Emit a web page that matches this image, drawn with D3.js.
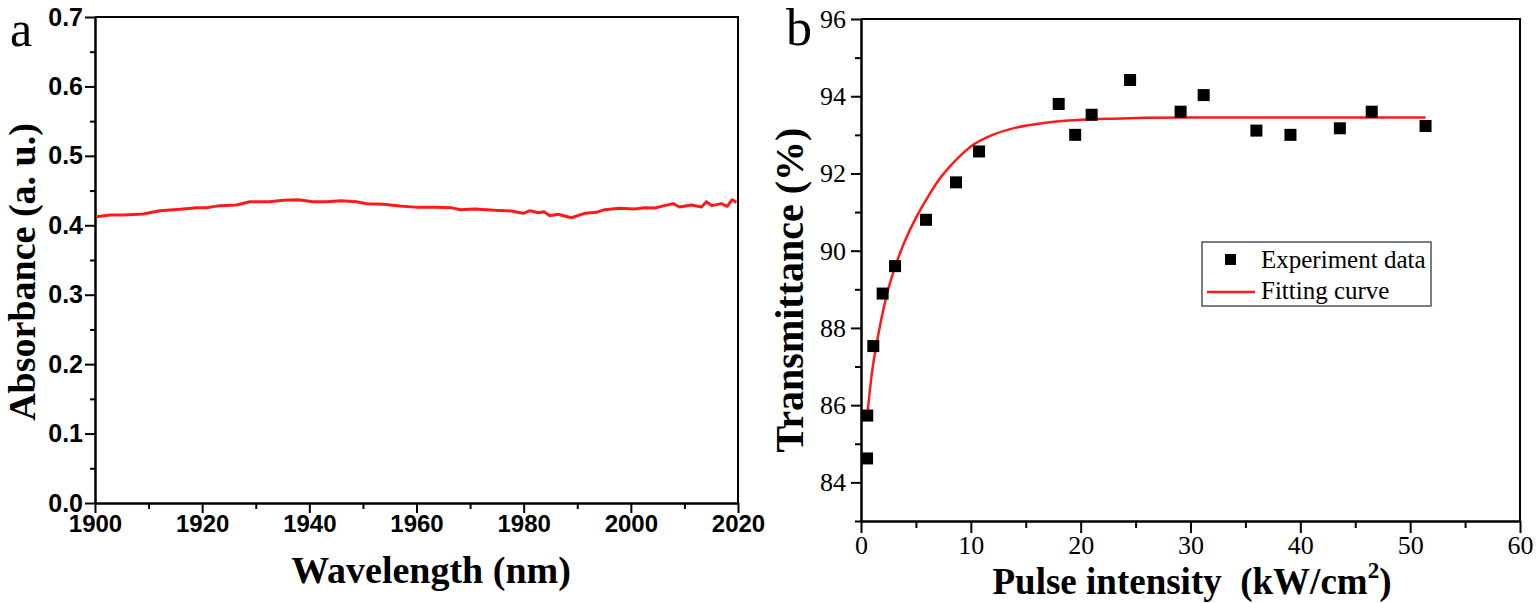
<!DOCTYPE html>
<html>
<head>
<meta charset="utf-8">
<script src="https://cdn.jsdelivr.net/npm/d3@7"></script>
<style>
  body { margin: 0; background: #fff; }
  svg { display: block; }
</style>
</head>
<body>
<script>
// panel a: absorbance spectrum
var wavelength = [1900.2, 1902.8, 1905.3, 1909, 1912.1, 1915.9, 1919, 1920.8, 1923.3, 1926.4, 1928.9, 1932.6,
    1935.1, 1937.9, 1940.7, 1943.2, 1946, 1948.8, 1950.7, 1953.8, 1956.9, 1960.3, 1963.4, 1966.5, 1968.1,
    1970.9, 1974.6, 1977.7, 1979.9, 1981.2, 1982.7, 1983.8, 1984.9, 1986.4, 1988.9, 1991.4, 1993.6, 1995.1,
    1997.9, 2000.7, 2002.6, 2004.5, 2006.3, 2007.9, 2009.1, 2011.3, 2013.2, 2014.1, 2015.1, 2016.9, 2018,
    2018.9, 2019.7];
var absorbance = [0.4124, 0.4148, 0.4148, 0.4162, 0.421, 0.423, 0.4254, 0.4254, 0.4283, 0.4292, 0.434, 0.434,
    0.436, 0.4368, 0.434, 0.434, 0.4354, 0.434, 0.431, 0.4302, 0.4278, 0.4258, 0.4258, 0.4254, 0.4225,
    0.4235, 0.4216, 0.4206, 0.4172, 0.421, 0.4181, 0.4196, 0.4138, 0.4158, 0.4109, 0.4172, 0.4187, 0.4225,
    0.4244, 0.4235, 0.4254, 0.4249, 0.4283, 0.4312, 0.4264, 0.4292, 0.4264, 0.434, 0.4283, 0.4312, 0.4273,
    0.4368, 0.433];
var wlTicks = [1900, 1920, 1940, 1960, 1980, 2000, 2020];
var absTicks = [0.0, 0.1, 0.2, 0.3, 0.4, 0.5, 0.6, 0.7];

// panel b: transmittance vs pulse intensity
var intensity = [0.55, 0.57, 1.12, 1.97, 3.1, 5.92, 8.65, 10.75, 18.0, 19.5, 21.0, 24.5, 29.1, 31.2, 36.0,
    39.1, 43.6, 46.5, 51.4];
var transmittance = [84.62, 85.73, 87.53, 88.89, 89.6, 90.8, 91.77, 92.57, 93.8, 93.0, 93.52, 94.42, 93.6,
    94.03, 93.11, 93.0, 93.17, 93.6, 93.23];
var fitX = [0.57, 1.0, 1.34, 2.34, 3.25, 4, 5, 6, 7, 8, 9, 10, 12, 14, 16, 18, 20, 23, 26, 30,
    35, 40, 45, 51.4];
var fitY = [85.73, 86.85, 87.45, 88.85, 89.7, 90.25, 90.85, 91.35, 91.8, 92.15, 92.45, 92.7, 93.0,
    93.18, 93.28, 93.35, 93.39, 93.42, 93.44, 93.45, 93.45, 93.45, 93.45, 93.45];
var intTicks = [0, 10, 20, 30, 40, 50, 60];
var trTicks = [84, 86, 88, 90, 92, 94, 96];
var legendLabels = ["Experiment data", "Fitting curve"];

var RED = "#ff1a1a";
var svg = d3.select("body").append("svg").attr("width", 1536).attr("height", 603);

// 轴样式
function styleAxis(g, font, size, weight) {
    g.select(".domain").attr("stroke", "#000").attr("stroke-width", 2);
    g.selectAll(".tick line").attr("stroke", "#000").attr("stroke-width", 2);
    g.selectAll(".tick text").attr("fill", "#000")
        .attr("font-family", font).attr("font-size", size).attr("font-weight", weight);
}

// ---------- panel a ----------
var xa = d3.scaleLinear().domain([1900, 2020]).range([95, 738]);
var ya = d3.scaleLinear().domain([0, 0.7]).range([503, 17]);
var sansFont = "'Liberation Sans', Arial, sans-serif";
var serifFont = "'Liberation Serif', 'Times New Roman', serif";

var gaxMinor = svg.append("g").attr("transform", "translate(0," + ya(0) + ")")
    .call(d3.axisBottom(xa).tickValues(d3.range(1910, 2020, 20)).tickSize(6).tickSizeOuter(0).tickFormat(""));
styleAxis(gaxMinor, sansFont, 24, "bold");
var gax = svg.append("g").attr("transform", "translate(0," + ya(0) + ")")
    .call(d3.axisBottom(xa).tickValues(wlTicks).tickSize(10).tickSizeOuter(0).tickPadding(2).tickFormat(d3.format("d")));
styleAxis(gax, sansFont, 24, "bold");

var gayMinor = svg.append("g").attr("transform", "translate(" + xa(1900) + ",0)")
    .call(d3.axisLeft(ya).tickValues(d3.range(0.05, 0.7, 0.1)).tickSize(5).tickSizeOuter(0).tickFormat(""));
styleAxis(gayMinor, sansFont, 24, "bold");
var gay = svg.append("g").attr("transform", "translate(" + xa(1900) + ",0)")
    .call(d3.axisLeft(ya).tickValues(absTicks).tickSize(10).tickSizeOuter(0).tickPadding(2).tickFormat(d3.format(".1f")));
styleAxis(gay, sansFont, 25, "bold");

// 上边框和右边框
svg.append("path")
    .attr("d", "M" + xa(1900) + "," + ya(0.7) + "H" + xa(2020) + "V" + ya(0))
    .attr("fill", "none").attr("stroke", "#000").attr("stroke-width", 2);

var lineA = d3.line()
    .x(function (d, i) { return xa(wavelength[i]); })
    .y(function (d) { return ya(d); });
svg.append("path").datum(absorbance)
    .attr("d", lineA)
    .attr("fill", "none").attr("stroke", RED).attr("stroke-width", 3).attr("stroke-linejoin", "round");

svg.append("text").attr("x", 431).attr("y", 583).attr("text-anchor", "middle")
    .attr("font-family", serifFont).attr("font-weight", "bold").attr("font-size", 38)
    .text("Wavelength (nm)");
svg.append("text").attr("transform", "translate(35,272) rotate(-90)").attr("text-anchor", "middle")
    .attr("font-family", serifFont).attr("font-weight", "bold").attr("font-size", 38)
    .text("Absorbance (a. u.)");
svg.append("text").attr("x", 10).attr("y", 46)
    .attr("font-family", serifFont).attr("font-size", 50).text("a");

// ---------- panel b ----------
var xb = d3.scaleLinear().domain([0, 60]).range([861, 1520]);
var yb = d3.scaleLinear().domain([83, 96]).range([521, 19]);

var gbxMinor = svg.append("g").attr("transform", "translate(0," + yb(83) + ")")
    .call(d3.axisBottom(xb).tickValues(d3.range(5, 60, 10)).tickSize(7).tickSizeOuter(0).tickFormat(""));
styleAxis(gbxMinor, serifFont, 26, "normal");
var gbx = svg.append("g").attr("transform", "translate(0," + yb(83) + ")")
    .call(d3.axisBottom(xb).tickValues(intTicks).tickSize(12).tickSizeOuter(0).tickPadding(3).tickFormat(d3.format("d")));
styleAxis(gbx, serifFont, 26, "normal");

var gbyMinor = svg.append("g").attr("transform", "translate(" + xb(0) + ",0)")
    .call(d3.axisLeft(yb).tickValues(d3.range(83, 96, 2)).tickSize(6).tickSizeOuter(0).tickFormat(""));
styleAxis(gbyMinor, serifFont, 26, "normal");
var gby = svg.append("g").attr("transform", "translate(" + xb(0) + ",0)")
    .call(d3.axisLeft(yb).tickValues(trTicks).tickSize(10).tickSizeOuter(0).tickPadding(5).tickFormat(d3.format("d")));
styleAxis(gby, serifFont, 26, "normal");

svg.append("path")
    .attr("d", "M" + xb(0) + "," + yb(96) + "H" + xb(60) + "V" + yb(83))
    .attr("fill", "none").attr("stroke", "#000").attr("stroke-width", 2);

var fitLine = d3.line()
    .x(function (d, i) { return xb(fitX[i]); })
    .y(function (d) { return yb(d); })
    .curve(d3.curveMonotoneX);
svg.append("path").datum(fitY)
    .attr("d", fitLine)
    .attr("fill", "none").attr("stroke", RED).attr("stroke-width", 2.5);

var sq = 12;
svg.append("g").selectAll("rect")
    .data(transmittance)
    .enter().append("rect")
    .attr("x", function (d, i) { return xb(intensity[i]) - sq / 2; })
    .attr("y", function (d) { return yb(d) - sq / 2; })
    .attr("width", sq).attr("height", sq)
    .attr("fill", "#000");

// 图例
var lg = svg.append("g").attr("transform", "translate(1202,242)");
lg.append("rect").attr("x", 0).attr("y", 0).attr("width", 229).attr("height", 64)
    .attr("fill", "#fff").attr("stroke", "#2f3b44").attr("stroke-width", 1.3);
lg.append("rect").attr("x", 23).attr("y", 12).attr("width", 11).attr("height", 11).attr("fill", "#000");
lg.append("line").attr("x1", 5).attr("x2", 53).attr("y1", 50).attr("y2", 50)
    .attr("stroke", RED).attr("stroke-width", 2.5);
lg.selectAll("text.lab").data(legendLabels).enter().append("text")
    .attr("class", "lab")
    .attr("x", 59).attr("y", function (d, i) { return 26 + i * 31; })
    .attr("font-family", serifFont).attr("font-size", 25)
    .text(function (d) { return d; });

var tb = svg.append("text").attr("x", 1192).attr("y", 594).attr("text-anchor", "middle")
    .attr("font-family", serifFont).attr("font-weight", "bold").attr("font-size", 37)
    .attr("xml:space", "preserve");
tb.append("tspan").text("Pulse intensity  (kW/cm");
tb.append("tspan").attr("font-size", 23).attr("dy", -16).text("2");
tb.append("tspan").attr("dy", 16).text(")");

svg.append("text").attr("transform", "translate(803,290) rotate(-90)").attr("text-anchor", "middle")
    .attr("font-family", serifFont).attr("font-weight", "bold").attr("font-size", 40)
    .text("Transmittance (%)");
svg.append("text").attr("x", 786).attr("y", 45)
    .attr("font-family", serifFont).attr("font-size", 52).text("b");
</script>
</body>
</html>
